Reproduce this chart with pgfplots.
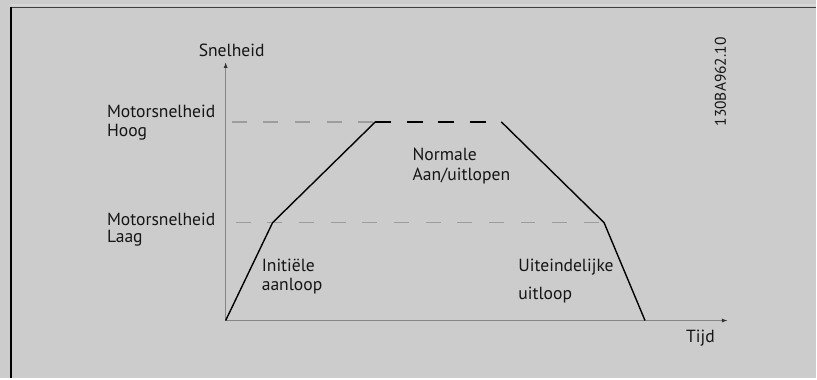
\documentclass[border=0pt]{standalone}
\usepackage{pgfplots}
\pgfplotsset{compat=1.18}
\usepackage{fontspec}
\setmainfont{PT Sans}
\usetikzlibrary{arrows.meta}
\definecolor{bg}{HTML}{CCCCCC}
\definecolor{bgl}{HTML}{D6D6D6}
\definecolor{axgray}{HTML}{858585}
\definecolor{dashgray}{HTML}{9C9C9C}
\definecolor{txt}{HTML}{151515}
\tikzset{lbl/.style={font=\fontsize{17.6}{19}\selectfont, text=txt, inner sep=0pt}}
\begin{document}
\begin{tikzpicture}
\begin{axis}[width=817pt,height=379pt,scale only axis,
  xmin=0,xmax=817,ymin=0,ymax=379,y dir=reverse,
  axis lines=none,clip=false]
\fill[bg] (axis cs:0,0) rectangle (axis cs:817,379);
\draw[bgl, line width=2.5pt] (axis cs:11,5) -- (axis cs:817,5);
\draw[black!75, line width=1.5pt] (axis cs:11,7.5) -- (axis cs:817,7.5);
\draw[black, line width=2pt] (axis cs:11.5,6.8) -- (axis cs:11.5,379);
% axes
\addplot[axgray, line width=1.3pt, -{Latex[length=6pt,width=4pt,color=black!80]}] coordinates {(226,321) (226,62)};
\addplot[axgray, line width=1.3pt, -{Latex[length=6pt,width=4pt,color=black!80]}] coordinates {(226,321) (729,321)};
% reference levels
\addplot[dashgray, line width=1.4pt, dash pattern=on 15pt off 16.7pt] coordinates {(232,122) (376,122)};
\addplot[dashgray, line width=1.4pt, dash pattern=on 15pt off 16.7pt] coordinates {(236,223) (605,223)};
% speed profile
\addplot[black, line width=1.4pt] coordinates {(226,321) (273,223) (376,122)};
\addplot[black, line width=1.4pt, dash pattern=on 16pt off 15.5pt] coordinates {(376,122) (502,122)};
\addplot[black, line width=1.4pt] coordinates {(502,122) (605,223) (646,321)};
% labels
\node[lbl, anchor=base] at (axis cs:232,57) {Snelheid};
\node[lbl, anchor=base west] at (axis cs:107,118) {Motorsnelheid};
\node[lbl, anchor=base west] at (axis cs:107,137) {Hoog};
\node[lbl, anchor=base west] at (axis cs:107,226) {Motorsnelheid};
\node[lbl, anchor=base west] at (axis cs:107,243) {Laag};
\node[lbl, anchor=base west] at (axis cs:262,272) {Initiële};
\node[lbl, anchor=base west] at (axis cs:262,291) {aanloop};
\node[lbl, anchor=base west] at (axis cs:413,161) {Normale};
\node[lbl, anchor=base west] at (axis cs:413,181) {Aan/uitlopen};
\node[lbl, anchor=base west] at (axis cs:519,272) {Uiteindelijke};
\node[lbl, anchor=base west] at (axis cs:519,300) {uitloop};
\node[lbl, anchor=base west] at (axis cs:687,343) {Tijd};
\node[lbl, rotate=90, anchor=base, font=\fontsize{15.5}{18}\selectfont] at (axis cs:727,82) {130BA962.10};
\end{axis}
\end{tikzpicture}
\end{document}
